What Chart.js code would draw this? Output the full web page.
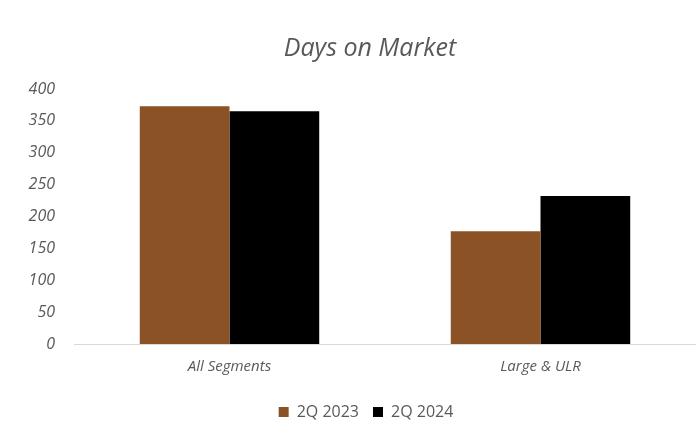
<!DOCTYPE html>
<html>
<head>
<meta charset="utf-8">
<script src="https://cdn.jsdelivr.net/npm/chart.js@4"></script>
<style>
html,body{margin:0;padding:0;background:#fff;}
#wrap{width:696px;height:433px;position:relative;}
</style>
</head>
<body>
<div id="wrap"><canvas id="c"></canvas></div>
<script>
const categories = ["All Segments", "Large & ULR"];
const seriesNames = ["2Q 2023", "2Q 2024"];
const values2023 = [373, 177];
const values2024 = [365, 232];
const yTicks = [0, 50, 100, 150, 200, 250, 300, 350, 400];

const grey = '#595959';
const FONT = 'Open Sans';
const shiftPlugin = {
  id: 'shift',
  afterLayout(chart) {
    if (chart.titleBlock) chart.titleBlock.left = 44;
    if (chart.legend) chart.legend.left = 36;
  }
};
new Chart(document.getElementById('c'), {
  type: 'bar',
  data: {
    labels: categories,
    datasets: [
      {label: seriesNames[0], data: values2023, backgroundColor: '#8B5226', borderWidth: 0},
      {label: seriesNames[1], data: values2024, backgroundColor: '#000000', borderWidth: 0}
    ]
  },
  plugins: [shiftPlugin],
  options: {
    responsive: true,
    maintainAspectRatio: false,
    animation: false,
    devicePixelRatio: 1,
    layout: {padding: {left: 0, right: 0, top: 34, bottom: 3}},
    datasets: {bar: {categoryPercentage: 0.577, barPercentage: 1.0}},
    scales: {
      x: {
        grid: {display: false, drawTicks: false},
        border: {display: true, color: '#d9d9d9', width: 1},
        ticks: {color: grey, padding: 14, font: {family: FONT, style: 'italic', size: 15}}
      },
      y: {
        min: 0, max: 400,
        afterFit: s => { s.width = 74; },
        afterBuildTicks: s => { s.ticks = yTicks.map(v => ({value: v})); },
        grid: {display: false, drawTicks: false},
        border: {display: false},
        ticks: {color: grey, padding: 19, font: {family: FONT, style: 'italic', size: 16}}
      }
    },
    plugins: {
      title: {
        display: true, text: 'Days on Market', color: grey,
        font: {family: FONT, style: 'italic', size: 25, weight: 'normal'},
        padding: {top: 0, bottom: 25}
      },
      legend: {
        position: 'bottom',
        labels: {boxWidth: 10, boxHeight: 10, color: grey, padding: 14, font: {family: FONT, size: 16}}
      },
      tooltip: {enabled: false}
    }
  }
});
</script>
</body>
</html>
